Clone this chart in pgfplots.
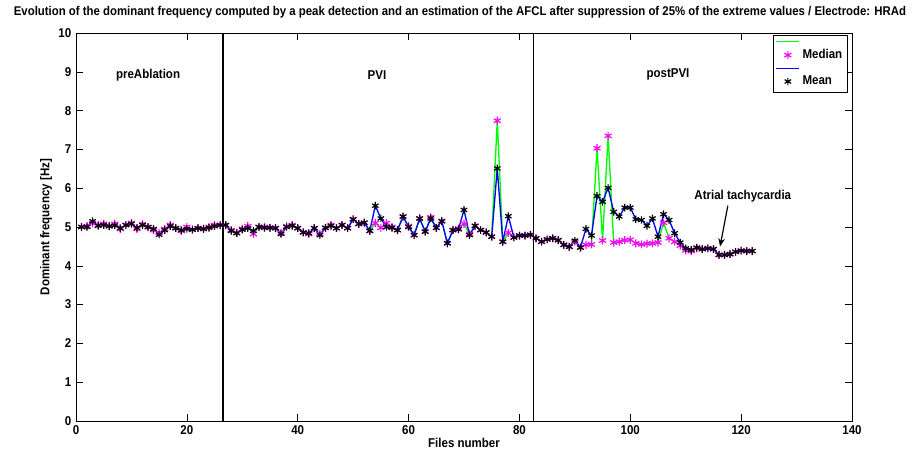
\documentclass[border=0pt]{standalone}
\usepackage{pgfplots}
\pgfplotsset{compat=1.18}
\usepackage{pgfplotstable}
\usepackage{fontspec}
\setmainfont[FakeStretch=0.9]{Liberation Sans}
\usetikzlibrary{arrows.meta}
\definecolor{mgreen}{rgb}{0,1,0}
\definecolor{mmag}{rgb}{1,0,1}
\definecolor{mblue}{rgb}{0,0,1}
\newcommand{\ff}{\bfseries\fontsize{9.6}{11}\selectfont}

\pgfplotstableread{
x med mean
1 5.00 5.00
2 5.02 5.00
3 5.10 5.15
4 5.05 5.03
5 5.08 5.05
6 5.02 5.02
7 5.08 5.04
8 4.95 4.97
9 5.05 5.05
10 5.10 5.08
11 4.95 4.98
12 5.07 5.05
13 5.00 5.00
14 4.92 4.95
15 4.85 4.80
16 4.95 4.92
17 5.05 5.02
18 4.97 4.97
19 4.90 4.92
20 5.00 4.95
21 4.93 4.93
22 4.97 4.97
23 4.95 4.95
24 5.00 4.98
25 5.05 5.02
26 5.05 5.05
27 5.05 5.05
28 4.92 4.90
29 4.85 4.84
30 4.95 4.93
31 5.02 4.97
32 4.82 4.90
33 5.00 5.00
34 5.00 4.98
35 4.98 4.98
36 4.97 4.97
37 4.85 4.82
38 5.02 5.00
39 5.05 5.03
40 4.97 4.97
41 4.86 4.86
42 4.82 4.84
43 4.97 4.97
44 4.82 4.79
45 4.98 4.98
46 5.05 5.03
47 4.97 4.97
48 5.05 5.05
49 4.97 4.97
50 5.20 5.20
51 5.08 5.08
52 5.11 5.11
53 4.90 4.90
54 5.10 5.55
55 4.98 5.22
56 5.10 5.00
57 5.00 4.98
58 4.92 4.92
59 5.27 5.27
60 5.02 5.00
61 4.79 4.79
62 5.22 5.22
63 4.88 4.88
64 5.25 5.22
65 4.98 4.98
66 5.15 5.15
67 4.58 4.58
68 4.92 4.92
69 4.96 4.94
70 5.08 5.44
71 4.82 4.79
72 5.03 5.03
73 4.92 4.92
74 4.86 4.86
75 4.75 4.75
76 7.74 6.51
77 4.62 4.62
78 4.85 5.28
79 4.73 4.73
80 4.78 4.78
81 4.78 4.78
82 4.80 4.80
83 4.71 4.71
84 4.62 4.62
85 4.68 4.68
86 4.71 4.71
87 4.66 4.66
88 4.54 4.54
89 4.49 4.49
90 4.62 4.65
91 4.47 4.47
92 4.54 4.95
93 4.55 4.78
94 7.03 5.80
95 4.65 5.65
96 7.35 6.01
97 4.60 5.39
98 4.62 5.27
99 4.66 5.50
100 4.67 5.50
101 4.58 5.20
102 4.55 5.18
103 4.57 5.03
104 4.58 5.22
105 4.60 4.75
106 5.11 5.33
107 4.71 5.18
108 4.62 4.84
109 4.52 4.60
110 4.40 4.45
111 4.38 4.41
112 4.45 4.47
113 4.43 4.43
114 4.45 4.45
115 4.43 4.43
116 4.28 4.28
117 4.28 4.28
118 4.30 4.30
119 4.36 4.36
120 4.39 4.39
121 4.38 4.38
122 4.38 4.38
}\data

\begin{document}
\begin{tikzpicture}
\begin{axis}[
  scale only axis, width=582pt, height=291pt,
  xmin=0, xmax=140, ymin=0, ymax=10,
  xtick={0,20,...,140}, ytick={0,1,...,10},
  tick align=inside, major tick length=5pt,
  tick style={black, thin},
  axis line style={black, thin},
  /pgf/number format/assume math mode=true,
  ticklabel style={font=\ff},
  xlabel={Files number}, ylabel={Dominant frequency [Hz]},
  label style={font=\ff},
  xlabel style={yshift=4pt},
  ylabel style={yshift=-2pt},
  title={Evolution of the dominant frequency computed by a peak detection and an estimation of the AFCL after suppression of 25\% of the extreme values / Electrode: HRAd},
  title style={font=\bfseries\fontsize{9.5}{11}\selectfont, at={(rel axis cs:0.5,1)}, anchor=south, inner sep=0pt, yshift=5pt, xshift=-3pt},
  legend style={at={(rel axis cs:0.995,0.995)}, anchor=north east, draw=black, thick, font=\ff, row sep=1pt, inner sep=2pt},
  legend cell align=left,
]
\addplot[mgreen, line width=1pt, mark=none] table[x=x,y=med]{\data};
\addlegendentry{}
\addplot[only marks, mmag, mark=asterisk, mark size=3pt, line width=0.9pt] table[x=x,y=med]{\data};
\addlegendentry{Median}
\addplot[mblue, line width=1pt, mark=none] table[x=x,y=mean]{\data};
\addlegendentry{}
\addplot[only marks, black, mark=asterisk, mark size=2.8pt, line width=0.9pt] table[x=x,y=mean]{\data};
\addlegendentry{Mean}
\addplot[black, line width=1pt, forget plot] coordinates {(26.5,0) (26.5,10)};
\addplot[black, line width=1pt, forget plot] coordinates {(82.5,0) (82.5,10)};
\node[font=\ff] at (axis cs:13,8.92) {preAblation};
\node[font=\ff] at (axis cs:54.3,8.92) {PVI};
\node[font=\ff] at (axis cs:106.8,8.92) {postPVI};
\node[font=\ff] at (axis cs:120.3,5.8) {Atrial tachycardia};
\draw[black, line width=0.9pt, -{Stealth[length=6pt,width=5pt]}] (axis cs:117.6,5.55) -- (axis cs:116.2,4.5);
\coordinate (SW) at (rel axis cs:0,0);
\coordinate (NE) at (rel axis cs:1,1);
\end{axis}
\pgfresetboundingbox
\path (SW) ++(-57pt,-21.75pt) coordinate (A);
\path (NE) ++(46.5pt,24.75pt) coordinate (B);
\path[use as bounding box] (A) rectangle (B);
\end{tikzpicture}
\end{document}
